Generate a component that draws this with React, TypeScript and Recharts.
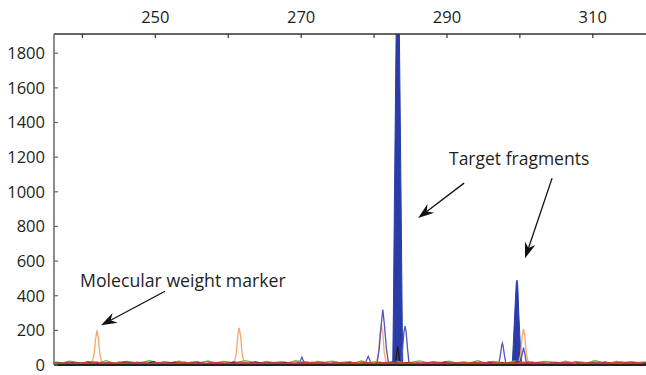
import React from "react"
import {
  Area,
  ComposedChart,
  Line,
  ReferenceLine,
  XAxis,
  YAxis,
} from "recharts"

// axis ticks
const sizeTicks = [240, 250, 260, 270, 280, 290, 300, 310]
const sizeLabels = [250, 270, 290, 310]
const rfuTicks = [0, 200, 400, 600, 800, 1000, 1200, 1400, 1600, 1800]

// filled target peaks (size, rfu)
const target1X = [282.56, 282.65, 282.77, 282.95, 283.05, 283.45, 283.55, 283.73, 283.85, 283.94]
const target1Y = [0, 300, 850, 1600, 2000, 2000, 1600, 850, 300, 0]
const target2X = [298.95, 299.1, 299.3, 299.5, 299.6, 299.7, 299.85, 300.05, 300.25]
const target2Y = [0, 120, 300, 470, 489, 470, 300, 120, 0]

// outlined blue peaks
const blueX = [
  269.6, 269.9, 270.1, 270.3, 270.6,
  278.8, 279.0, 279.2, 279.4, 279.6,
  280.4, 280.7, 281.0, 281.2, 281.4, 281.7, 282.0,
  283.7, 283.9, 284.1, 284.25, 284.4, 284.6, 284.8,
  297.1, 297.3, 297.5, 297.6, 297.7, 297.9, 298.1,
  300.1, 300.3, 300.5, 300.7, 300.9,
]
const blueY = [
  8, 25, 45, 25, 8,
  8, 30, 50, 30, 8,
  8, 90, 240, 320, 240, 90, 8,
  8, 90, 190, 224, 190, 90, 8,
  8, 50, 110, 126, 110, 50, 8,
  8, 60, 100, 60, 8,
]

// orange size-standard peaks
const orangeX = [
  241.3, 241.6, 241.8, 242.0, 242.2, 242.4, 242.7,
  260.8, 261.1, 261.3, 261.5, 261.7, 261.9, 262.2,
  280.3, 280.6, 280.8, 281.0, 281.2, 281.4, 281.7,
  299.8, 300.1, 300.3, 300.5, 300.7, 300.9, 301.2,
]
const orangeY = [
  8, 60, 150, 200, 150, 60, 8,
  8, 65, 165, 215, 165, 65, 8,
  8, 70, 180, 235, 180, 70, 8,
  8, 60, 160, 209, 160, 60, 8,
]

// black peak under the main target
const blackPeakX = [282.9, 283.1, 283.25, 283.4, 283.6]
const blackPeakY = [5, 60, 107, 60, 5]

// baseline noise
const redNoise = [
  9, 12, 7, 10, 14, 8, 11, 6, 10, 13,
  8, 11, 15, 9, 7, 12, 10, 8, 13, 9,
  11, 7, 10, 14, 8, 12, 9, 6, 11, 10,
  13, 8, 10, 7, 12, 9, 14, 10, 8, 11,
  9, 12, 7, 10, 13, 8, 11, 9, 12, 6,
  10, 14, 9, 11, 7, 12, 8, 10, 13, 9,
  11, 8, 12, 10, 7, 13, 9, 11, 8, 12,
  10, 14, 8, 11, 9, 12, 7, 10, 13, 8,
  11, 9, 12, 10, 8, 14, 9, 11, 7, 12,
  10, 13, 8, 11, 9, 12, 10, 7, 13, 9,
  11, 8, 12, 10, 14, 9, 11, 8, 12, 10,
  7, 13, 9, 11, 8, 12, 10, 14, 9, 11,
  8, 12, 10, 7, 13, 9, 11, 8, 12, 10,
  14, 9, 11, 8, 12, 10, 7, 13, 9, 11,
  8, 12, 10, 14, 9, 11, 8, 12, 10, 7,
  13, 9, 11, 8, 12, 10, 14, 9, 11, 8,
  12, 10, 13,
]
const greenNoise = [
  18, 12, 22, 15, 9, 20, 14, 25, 11, 17,
  21, 13, 16, 24, 10, 19, 14, 22, 12, 18,
  15, 23, 11, 20, 16, 13, 25, 17, 10, 21,
  14, 19, 12, 24, 16, 11, 20, 15, 22, 13,
  18, 10, 23, 14, 19, 12, 17, 21, 11, 16,
  24, 13, 19, 15, 22, 10, 18, 14, 25, 12,
  20, 16, 11, 23, 15, 19, 13, 21, 17, 10,
  22, 14, 18, 12, 24, 16, 11, 20, 15, 19,
  13, 17,
]
const blackNoise = [
  12, 6, 15, 9, 18, 7, 11, 14, 5, 16,
  10, 13, 8, 19, 6, 12, 15, 9, 11, 17,
  7, 14, 10, 6, 16, 12, 9, 18, 8, 13,
  11, 15, 6, 10, 17, 9, 13, 7, 14, 11,
  16, 8, 12, 5, 15, 10, 18, 9, 13, 6,
  11, 14, 8, 17, 10, 12, 7, 15, 9, 16,
  6, 13, 11, 18, 8, 14, 10, 7, 15, 12,
  9, 16, 6, 13, 11, 17, 8, 14, 10, 12,
  7, 15,
]

const pts = (xs: number[], ys: number[]) => xs.map((x, i) => ({ x, y: ys[i] }))
const noise = (ys: number[], start: number, step: number) =>
  ys.map((y, i) => ({ x: start + i * step, y }))

// separate peaks so each one is its own line
const splitPeaks = (xs: number[], ys: number[]) => {
  const out: { x: number; y: number }[][] = []
  let cur: { x: number; y: number }[] = []
  xs.forEach((x, i) => {
    if (cur.length && x - cur[cur.length - 1].x > 0.6) {
      out.push(cur)
      cur = []
    }
    cur.push({ x, y: ys[i] })
  })
  if (cur.length) out.push(cur)
  return out
}

const Arrow = (p: any) => {
  const { x1, y1, x2, y2 } = p
  const a = Math.atan2(y2 - y1, x2 - x1)
  const len = 16
  const w = 5.5
  const bx = x2 - len * Math.cos(a)
  const by = y2 - len * Math.sin(a)
  const nx = x2 - len * 0.68 * Math.cos(a)
  const ny = y2 - len * 0.68 * Math.sin(a)
  const px = -Math.sin(a) * w
  const py = Math.cos(a) * w
  return (
    <g>
      <line x1={x1} y1={y1} x2={nx} y2={ny} stroke="#111" strokeWidth={1.3} />
      <polygon
        points={`${x2},${y2} ${bx + px},${by + py} ${nx},${ny} ${bx - px},${by - py}`}
        fill="#111"
      />
    </g>
  )
}

const font = "'Open Sans', sans-serif"

const App = () => {
  return (
    <div style={{ position: "absolute", left: 0, top: 0, width: 646, height: 375, background: "#fff" }}>
      <ComposedChart width={646} height={375} margin={{ top: 0, right: 0, bottom: 10, left: 0 }}>
        <XAxis
          xAxisId={0}
          type="number"
          dataKey="x"
          orientation="top"
          domain={[236.1, 317.3]}
          allowDataOverflow
          ticks={sizeTicks}
          tickFormatter={(v: number) => (sizeLabels.includes(v) ? String(v) : "")}
          height={34}
          tickSize={-4}
          tickMargin={15}
          axisLine={{ stroke: "#333", strokeWidth: 1.5 }}
          tickLine={{ stroke: "#333", strokeWidth: 1.2 }}
          tick={{ fill: "#231f20", fontSize: 16.5, fontFamily: font }}
          interval={0}
        />
        <YAxis
          yAxisId={0}
          type="number"
          domain={[0, 1911]}
          allowDataOverflow
          ticks={rfuTicks}
          width={54}
          tickSize={-4}
          tickMargin={13}
          axisLine={{ stroke: "#666", strokeWidth: 1.5 }}
          tickLine={{ stroke: "#666", strokeWidth: 1.2 }}
          tick={{ fill: "#231f20", fontSize: 16.5, fontFamily: font }}
          interval={0}
        />
        {splitPeaks(orangeX, orangeY).map((d, i) => (
          <Line key={"o" + i} data={d} dataKey="y" type="linear" stroke="#f8a866" strokeWidth={1.3} dot={false} isAnimationActive={false} />
        ))}
        {splitPeaks(blueX, blueY).map((d, i) => (
          <Line key={"b" + i} data={d} dataKey="y" type="linear" stroke="#4f58c4" strokeWidth={1.3} dot={false} isAnimationActive={false} />
        ))}
        <Area data={pts(target1X, target1Y)} dataKey="y" type="linear" stroke="#2a3ca8" strokeWidth={1} fill="#2a3ca8" fillOpacity={1} isAnimationActive={false} />
        <Area data={pts(target2X, target2Y)} dataKey="y" type="linear" stroke="#2a3ca8" strokeWidth={1} fill="#2a3ca8" fillOpacity={1} isAnimationActive={false} />
        <Line data={pts(blackPeakX, blackPeakY)} dataKey="y" type="linear" stroke="#1a1a1a" strokeWidth={1.2} dot={false} isAnimationActive={false} />
        <Line data={noise(greenNoise, 236.25, 1)} dataKey="y" type="linear" stroke="#4cc244" strokeWidth={1.4} dot={false} isAnimationActive={false} />
        <Line data={noise(blackNoise, 236.75, 1)} dataKey="y" type="linear" stroke="#222" strokeWidth={1.3} dot={false} isAnimationActive={false} />
        <Line data={noise(redNoise, 236, 0.5)} dataKey="y" type="linear" stroke="#e8342c" strokeWidth={2} dot={false} isAnimationActive={false} />
        <ReferenceLine y={0} stroke="#222" strokeWidth={2} />
        <ReferenceLine segment={[{ x: 251.33, y: 426 }, { x: 242.55, y: 229 }]} shape={Arrow} ifOverflow="visible" />
        <ReferenceLine segment={[{ x: 292.35, y: 1050 }, { x: 286.04, y: 848 }]} shape={Arrow} ifOverflow="visible" />
        <ReferenceLine segment={[{ x: 304.42, y: 1079 }, { x: 300.71, y: 616 }]} shape={Arrow} ifOverflow="visible" />
      </ComposedChart>
      <div style={{ position: "absolute", left: 80, top: 270, fontFamily: font, fontSize: 17.7, lineHeight: "20px", color: "#231f20", whiteSpace: "nowrap" }}>
        Molecular weight marker
      </div>
      <div style={{ position: "absolute", left: 449, top: 148, fontFamily: font, fontSize: 17.5, lineHeight: "20px", color: "#231f20", whiteSpace: "nowrap" }}>
        Target fragments
      </div>
    </div>
  )
}

export default App
